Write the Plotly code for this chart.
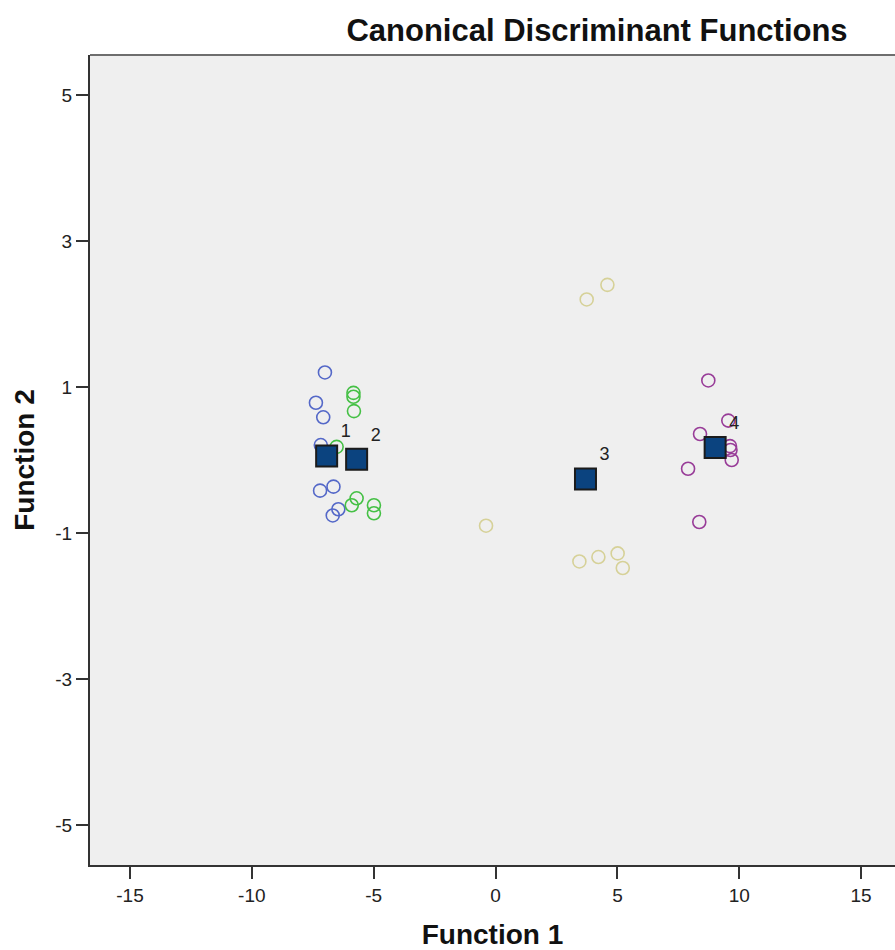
import plotly.graph_objects as go

# Group 1 (blue)
g1_x = [-7.00, -7.37, -7.07, -7.17, -7.20, -6.65, -6.45, -6.68]
g1_y = [1.20, 0.785, 0.585, 0.205, -0.42, -0.365, -0.675, -0.76]
# Group 2 (green)
g2_x = [-5.83, -5.83, -5.81, -6.52, -5.70, -5.90, -4.99, -4.99]
g2_y = [0.92, 0.867, 0.67, 0.18, -0.525, -0.62, -0.62, -0.73]
# Group 3 (khaki)
g3_x = [4.59, 3.74, -0.39, 3.44, 4.22, 5.01, 5.22]
g3_y = [2.40, 2.20, -0.90, -1.39, -1.33, -1.28, -1.48]
# Group 4 (purple)
g4_x = [8.73, 9.55, 8.39, 9.62, 9.64, 9.69, 7.90, 8.36]
g4_y = [1.09, 0.54, 0.356, 0.19, 0.137, 0.0, -0.12, -0.85]
# Group centroids
cent_x = [-6.93, -5.70, 3.69, 9.01]
cent_y = [0.055, 0.01, -0.26, 0.17]
cent_labels = ["1", "2", "3", "4"]

x_ticks = [-15, -10, -5, 0, 5, 10, 15]
y_ticks = [-5, -3, -1, 1, 3, 5]

groups = [
    (g1_x, g1_y, "#5468c8"),
    (g2_x, g2_y, "#45c045"),
    (g3_x, g3_y, "#d6d198"),
    (g4_x, g4_y, "#983c98"),
]

fig = go.Figure()
for gx, gy, col in groups:
    fig.add_trace(go.Scatter(
        x=gx, y=gy, mode="markers",
        marker=dict(symbol="circle-open", size=13, color=col, line=dict(width=1.6, color=col)),
        showlegend=False, hoverinfo="skip"))

fig.add_trace(go.Scatter(
    x=cent_x, y=cent_y, mode="markers+text",
    text=cent_labels, textposition="top right",
    textfont=dict(family="Liberation Sans, Arial, sans-serif", size=18, color="#222222"),
    marker=dict(symbol="square", size=21, color="#0b437f", line=dict(width=2, color="#1b1b1b")),
    showlegend=False, hoverinfo="skip"))

font_family = "Liberation Sans, Arial, sans-serif"

fig.update_layout(
    width=895, height=950,
    margin=dict(l=90, r=0, t=55, b=85),
    paper_bgcolor="white",
    plot_bgcolor="#efefef",
    title=dict(text="<b>Canonical Discriminant Functions</b>",
               font=dict(family=font_family, size=31, color="#111111"),
               x=597/895, xref="container", xanchor="center",
               y=1 - 30/950, yref="container", yanchor="middle"),
    xaxis=dict(range=[-16.64, 16.39], tickvals=x_ticks, ticktext=[str(v) for v in x_ticks],
               showgrid=False, zeroline=False, showline=True, linecolor="#333333", linewidth=2,
               ticks="outside", ticklen=12, tickwidth=2, tickcolor="#333333",
               tickfont=dict(family=font_family, size=19, color="#222222"),
               title=dict(text="<b>Function 1</b>", font=dict(family=font_family, size=28, color="#111111"),
                          standoff=24)),
    yaxis=dict(range=[-5.55, 5.55], tickvals=y_ticks, ticktext=[str(v) for v in y_ticks],
               showgrid=False, zeroline=False, showline=True, linecolor="#333333", linewidth=2,
               ticks="outside", ticklen=12, tickwidth=2, tickcolor="#333333",
               tickfont=dict(family=font_family, size=19, color="#222222"),
               title=dict(text="<b>Function 2</b>", font=dict(family=font_family, size=28, color="#111111"),
                          standoff=12)),
    shapes=[dict(type="line", xref="paper", yref="paper", x0=0, x1=1, y0=1, y1=1,
                 line=dict(color="#6e6e6e", width=2))],
)

fig.write_html("out.html")
